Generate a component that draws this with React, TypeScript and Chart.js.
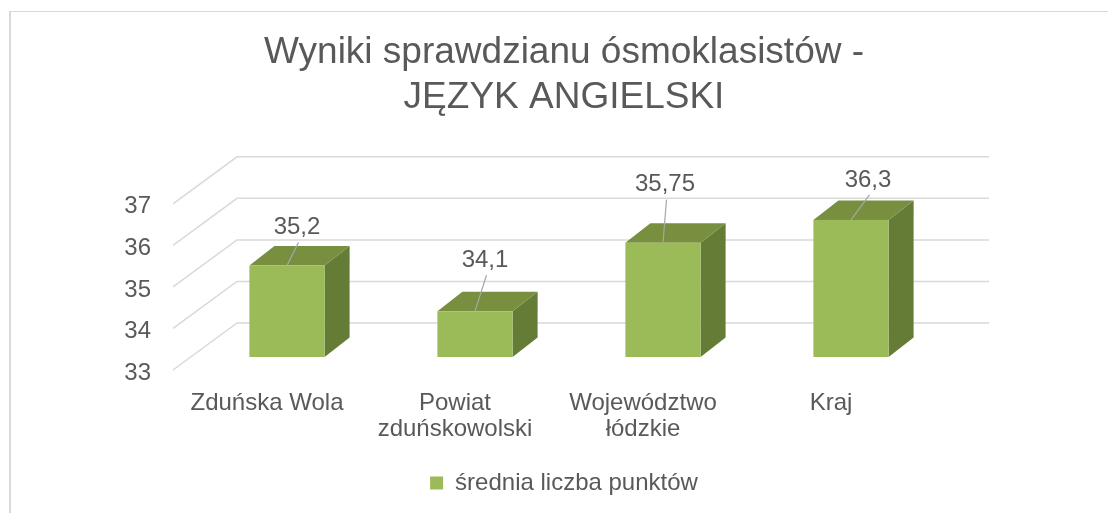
import React, { useEffect, useRef } from "react";
import { Chart, registerables } from "chart.js";

Chart.register(...registerables);

// ---- data ----
const categories: (string | string[])[] = [
  "Zduńska Wola",
  ["Powiat", "zduńskowolski"],
  ["Województwo", "łódzkie"],
  "Kraj",
];
const seriesName = "średnia liczba punktów";
const seriesValues: number[] = [35.2, 34.1, 35.75, 36.3];
const yMin = 33;
const yMax = 37;
const yStep = 1;
const titleLines: string[] = ["Wyniki sprawdzianu ósmoklasistów -", "JĘZYK ANGIELSKI"];

// ---- styling / layout ----
const FONT = "'Liberation Sans', Arial, sans-serif";
const TEXT = "#595959";
const GRID = "#d9d9d9";
const FRONT_COLOR = "#9BBB59";
const TOP_COLOR = "#778F3F";
const SIDE_COLOR = "#657C36";
const WALL_DEPTH = { dx: 64, dy: -47 };
const BAR_SHIFT = { dx: 20, dy: -13 };
const BAR_DEPTH = { dx: 25, dy: -19.5 };
const LABEL_OFFSETS: [number, number][] = [
  [10, -38],
  [10, -51],
  [2, -58],
  [17, -40],
];

const fmt = (v: number) => String(v).replace(".", ",");

const threeDPlugin = {
  id: "threeD",
  beforeDatasetsDraw(chart: any) {
    const { ctx, chartArea, scales } = chart;
    const y = scales.y;
    ctx.save();
    ctx.strokeStyle = GRID;
    ctx.lineWidth = 1.5;
    y.ticks.forEach((t: any) => {
      const py = y.getPixelForValue(t.value);
      ctx.beginPath();
      ctx.moveTo(chartArea.left, py);
      ctx.lineTo(chartArea.left + WALL_DEPTH.dx, py + WALL_DEPTH.dy);
      ctx.lineTo(chartArea.right + WALL_DEPTH.dx, py + WALL_DEPTH.dy);
      ctx.stroke();
    });
    ctx.restore();
  },
  beforeDatasetDraw() {
    return false;
  },
  afterDatasetsDraw(chart: any) {
    const { ctx, scales } = chart;
    const yScale = scales.y;
    const meta = chart.getDatasetMeta(0);
    const basePx = yScale.getPixelForValue(yScale.min);
    ctx.save();
    meta.data.forEach((bar: any, i: number) => {
      const { x, width } = bar.getProps(["x", "width"], true);
      const value = chart.data.datasets[0].data[i] as number;
      const y = yScale.getPixelForValue(value);
      const l = x - width / 2 + BAR_SHIFT.dx;
      const r = x + width / 2 + BAR_SHIFT.dx;
      const t = y + BAR_SHIFT.dy;
      const b = basePx + BAR_SHIFT.dy;
      const dx = BAR_DEPTH.dx;
      const dy = BAR_DEPTH.dy;
      // side
      ctx.fillStyle = SIDE_COLOR;
      ctx.beginPath();
      ctx.moveTo(r, t);
      ctx.lineTo(r + dx, t + dy);
      ctx.lineTo(r + dx, b + dy);
      ctx.lineTo(r, b);
      ctx.closePath();
      ctx.fill();
      // top
      ctx.fillStyle = TOP_COLOR;
      ctx.beginPath();
      ctx.moveTo(l, t);
      ctx.lineTo(l + dx, t + dy);
      ctx.lineTo(r + dx, t + dy);
      ctx.lineTo(r, t);
      ctx.closePath();
      ctx.fill();
      // front
      ctx.fillStyle = FRONT_COLOR;
      ctx.fillRect(l, t, r - l, b - t);

      // label + leader line
      const cx = (l + r) / 2;
      const [ox, oy] = LABEL_OFFSETS[i] || [0, -40];
      const lx = cx + ox;
      const ly = t + oy;
      ctx.strokeStyle = "#a6a6a6";
      ctx.lineWidth = 1.2;
      ctx.beginPath();
      ctx.moveTo(lx + 1.5, ly + 15);
      ctx.lineTo(cx, t);
      ctx.stroke();
      ctx.fillStyle = TEXT;
      ctx.font = `24px ${FONT}`;
      ctx.textAlign = "center";
      ctx.textBaseline = "middle";
      ctx.fillText(fmt(value), lx, ly);
    });
    ctx.restore();
  },
};

export default function App() {
  const ref = useRef<HTMLCanvasElement | null>(null);

  useEffect(() => {
    if (!ref.current) return;
    const chart = new Chart(ref.current, {
      type: "bar",
      data: {
        labels: categories as any,
        datasets: [
          {
            label: seriesName,
            data: seriesValues,
            backgroundColor: FRONT_COLOR,
            borderWidth: 0,
            barPercentage: 0.4,
            categoryPercentage: 1,
          },
        ],
      },
      options: {
        animation: false,
        responsive: false,
        devicePixelRatio: 1,
        events: [],
        layout: { padding: { left: 0, right: 0, top: 0, bottom: 8 } },
        plugins: {
          tooltip: { enabled: false },
          title: {
            display: true,
            text: titleLines,
            color: TEXT,
            font: { family: FONT, size: 37, weight: "normal", lineHeight: 1.2 },
            padding: { top: 31, bottom: 84 },
          },
          legend: {
            display: true,
            position: "bottom",
            labels: {
              color: TEXT,
              font: { family: FONT, size: 24 },
              boxWidth: 13,
              boxHeight: 13,
              padding: 10,
            },
          },
        },
        scales: {
          x: {
            grid: { display: false },
            border: { display: false },
            ticks: {
              color: TEXT,
              font: { family: FONT, size: 24, lineHeight: 1.1 },
              padding: 12,
              maxRotation: 0,
              autoSkip: false,
            },
            afterFit: (s: any) => {
              s.height = 91;
            },
          },
          y: {
            min: yMin,
            max: yMax,
            grid: { display: false },
            border: { display: false },
            ticks: {
              stepSize: yStep,
              color: TEXT,
              font: { family: FONT, size: 24 },
              padding: 14,
              labelOffset: 3,
            },
            afterFit: (s: any) => {
              s.width = 173;
            },
          },
          y2: {
            type: "linear",
            position: "right",
            display: true,
            grid: { display: false },
            border: { display: false },
            ticks: { display: false },
            afterFit: (s: any) => {
              s.width = 203;
            },
          },
        },
      } as any,
      plugins: [threeDPlugin as any],
    });
    return () => chart.destroy();
  }, []);

  return (
    <div
      style={{
        position: "fixed",
        left: 0,
        top: 0,
        width: 1108,
        height: 513,
        overflow: "hidden",
        background: "#fff",
      }}
    >
      <div
        style={{
          position: "absolute",
          left: 9,
          top: 11,
          width: 1200,
          height: 600,
          borderTop: "1px solid #d9d9d9",
          borderLeft: "2px solid #d9d9d9",
        }}
      />
      <canvas
        ref={ref}
        width={1128}
        height={513}
        style={{ position: "absolute", left: 0, top: 0, width: 1128, height: 513 }}
      />
    </div>
  );
}
